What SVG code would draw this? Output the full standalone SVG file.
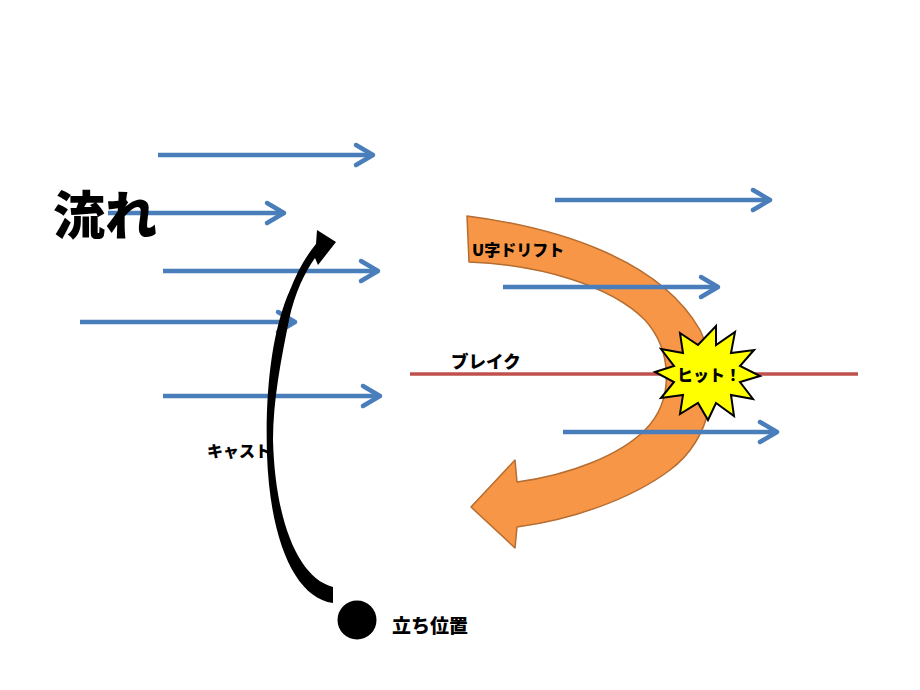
<svg xmlns="http://www.w3.org/2000/svg" width="920" height="690" viewBox="0 0 920 690">
<defs>
<style>
.flow{stroke:#4A7EBB;stroke-width:4.5;fill:none;marker-end:url(#ah)}
.lbl{font-family:"Noto Sans CJK JP","Noto Sans CJK SC",sans-serif;font-weight:900;fill:#000}
</style>
<marker id="ah" markerUnits="userSpaceOnUse" markerWidth="40" markerHeight="40" viewBox="-25 -20 40 40" refX="-2" refY="0" orient="auto" overflow="visible">
<path d="M-17,-10 L0,0 L-17,10" fill="none" stroke="#4A7EBB" stroke-width="4.5" stroke-linecap="round" stroke-linejoin="round"/>
</marker>
</defs>
<rect width="920" height="690" fill="#fff"/>

<g id="u-drift">
<path d="M467,216 C560,228 660,260 700,330 C725,380 710,440 670,470 C630,500 570,520 517,527 L515,548 L471,507 L515,460 L517,482 C570,475 620,455 645,430 C675,400 672,350 645,320 C610,285 540,265 469,262 Z" fill="#F79646" stroke="#B66D31" stroke-width="1.5" stroke-linejoin="round"/>
<text class="lbl" x="472" y="256" font-size="16">U字ドリフト</text>
</g>

<g id="connectors">
<line class="flow" x1="158" y1="155" x2="371" y2="155"/>
<line class="flow" x1="108" y1="213" x2="282" y2="213"/>
<line class="flow" x1="163" y1="271" x2="376" y2="271"/>
<line class="flow" x1="80" y1="322" x2="293" y2="322"/>
<line class="flow" x1="163" y1="396" x2="378" y2="396"/>
<line class="flow" x1="555" y1="200" x2="768" y2="200"/>
<line class="flow" x1="503" y1="287" x2="716" y2="287"/>
<line class="flow" x1="563" y1="432" x2="775" y2="432"/>
</g>

<g id="break">
<line x1="410" y1="374" x2="858" y2="374" stroke="#C0504D" stroke-width="3.5"/>
<text class="lbl" x="451" y="368" font-size="17.5">ブレイク</text>
</g>

<g id="cast">
<path d="M333,603 C295,598 270,540 267,455 C265,390 272,330 290,290 C297,272 306,256 316,244 L317,230 L336,242 L318,265 L315,258 C305,272 295,292 289,320 C281,360 273,400 273,440 C275,520 298,578 333,587 Z" fill="#000"/>
<text class="lbl" x="207" y="457" font-size="16">キャスト</text>
</g>

<g id="stand">
<circle cx="357" cy="620" r="19.5" fill="#000"/>
<text class="lbl" x="392" y="633" font-size="19">立ち位置</text>
</g>

<g id="hit">
<polygon points="760,376 740,382 753,399 731,395 734,416 716,403 708,420 698,403 680,414 683,395 661,398 674,382 655,372 674,366 661,349 683,353 680,333 698,345 716,326 716,345 735,332 731,353 754,350 740,366" fill="#FFFF00" stroke="#000" stroke-width="2" stroke-linejoin="miter"/>
<text class="lbl" x="709" y="381" font-size="16" text-anchor="middle">ヒット！</text>
</g>

<g id="flow-label">
<text x="53" y="235" font-family="'Noto Sans CJK JP','Noto Sans CJK SC',sans-serif" font-weight="900" font-size="52" fill="#000">流れ</text>
</g>
</svg>
